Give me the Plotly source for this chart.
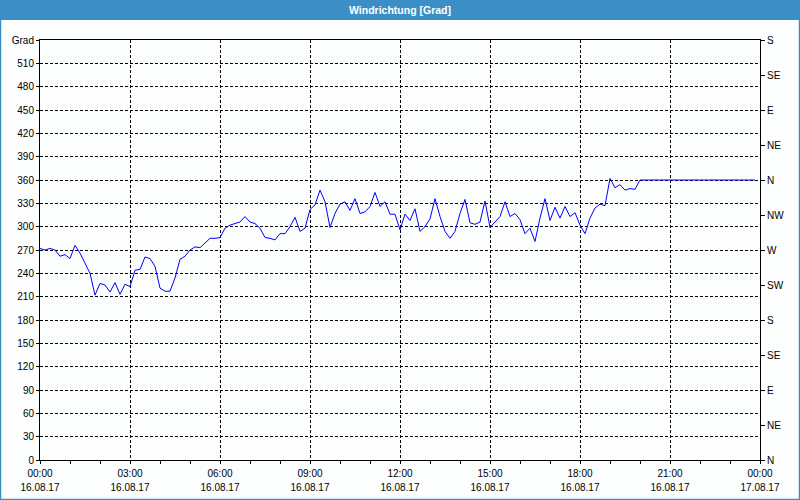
import plotly.graph_objects as go
import pandas as pd

# Wind direction readings every 10 minutes from 16.08.17 00:00
direction_10min = [
    272, 270, 272, 270, 262, 264, 259, 276, 266, 253, 240, 212,
    227, 225, 216, 228, 213, 226, 223, 244, 245, 261, 259, 249,
    221, 217, 217, 234, 258, 262, 270, 274, 273, 279, 285, 285,
    286, 298, 302, 304, 306, 313, 306, 304, 298, 286, 285, 283,
    291, 291, 300, 312, 294, 298, 322, 328, 347, 332, 299, 317,
    329, 332, 321, 336, 317, 319, 326, 344, 326, 332, 316, 316,
    296, 316, 308, 323, 294, 300, 310, 336, 313, 294, 285, 294,
    317, 335, 305, 303, 306, 333, 299, 306, 313, 332, 313, 317,
    309, 291, 298, 281, 311, 336, 308, 325, 311, 326, 313, 318,
    302, 291, 311, 324, 329, 327, 362, 350, 354, 347, 349, 348,
    360, 360, 360, 360, 360, 360, 360, 360, 360, 360, 360, 360,
    360, 360, 360, 360, 360, 360, 360, 360, 360, 360, 360, 360,
]
times = pd.date_range("2017-08-16 00:00", periods=len(direction_10min), freq="10min")

left_tick_vals = list(range(0, 541, 30))
left_tick_text = [str(v) for v in range(0, 511, 30)] + ["Grad"]
right_tick_vals = list(range(0, 541, 45))
right_tick_text = ["N", "NE", "E", "SE", "S", "SW", "W", "NW", "N", "NE", "E", "SE", "S"]
title_text = "Windrichtung [Grad]"

FONT = "Liberation Sans"
FS = 10
X_RANGE = ["2017-08-16 00:00", "2017-08-17 00:00"]
fig = go.Figure()
fig.add_trace(go.Scatter(x=times, y=direction_10min, mode="lines",
                         line=dict(color="#0000ff", width=1), showlegend=False,
                         hoverinfo="x+y"))
# invisible traces for the date-row axis and the right compass axis
fig.add_trace(go.Scatter(x=[times[0]], y=[0], xaxis="x2", mode="markers",
                         marker=dict(opacity=0), showlegend=False, hoverinfo="skip"))
fig.add_trace(go.Scatter(x=[times[0]], y=[0], yaxis="y2", mode="markers",
                         marker=dict(opacity=0), showlegend=False, hoverinfo="skip"))

fig.update_layout(
    width=800, height=500,
    margin=dict(l=40, r=40, t=40, b=40, autoexpand=False),
    paper_bgcolor="#fcfefe", plot_bgcolor="#fcfefe",
    font=dict(family=FONT, size=FS, color="#000000"),
    xaxis=dict(
        type="date", automargin=False,
        range=X_RANGE,
        dtick=3 * 3600 * 1000,
        tick0="2017-08-16 00:00",
        tickformat="%H:%M",
        showgrid=True, gridcolor="#000000", griddash="3px,2px", gridwidth=1,
        showline=True, linecolor="#000000", linewidth=1, mirror=True,
        ticks="outside", ticklen=3, tickcolor="#000000",
        ticklabelstandoff=1,
        minor=dict(dtick=3600 * 1000, ticks="outside", ticklen=3, tickcolor="#000000", showgrid=False),
        zeroline=False, fixedrange=True,
        tickfont=dict(family=FONT, size=FS, color="#000000"),
    ),
    xaxis2=dict(
        type="date", automargin=False, overlaying="x", side="bottom",
        range=X_RANGE,
        dtick=3 * 3600 * 1000,
        tick0="2017-08-16 00:00",
        tickformat="%d.%m.%y",
        showgrid=False, showline=False, ticks="",
        ticklabelstandoff=20,
        zeroline=False, fixedrange=True,
        tickfont=dict(family=FONT, size=FS, color="#000000"),
    ),
    yaxis=dict(
        range=[0, 540], automargin=False,
        tickvals=left_tick_vals, ticktext=left_tick_text,
        showgrid=True, gridcolor="#000000", griddash="3px,2px", gridwidth=1,
        showline=True, linecolor="#000000", linewidth=1, mirror=True,
        ticks="outside", ticklen=3, tickcolor="#000000",
        zeroline=False, fixedrange=True,
        tickfont=dict(family=FONT, size=FS, color="#000000"),
    ),
    yaxis2=dict(
        range=[0, 540], overlaying="y", side="right", automargin=False,
        tickvals=right_tick_vals, ticktext=right_tick_text,
        showgrid=False, showline=True, linecolor="#000000", linewidth=1,
        ticks="outside", ticklen=4, tickcolor="#000000",
        ticklabelstandoff=0,
        zeroline=False, fixedrange=True,
        tickfont=dict(family=FONT, size=FS, color="#000000"),
    ),
    shapes=[
        dict(type="rect", xref="paper", yref="paper",
             x0=-40 / 720, x1=760 / 720, y0=440 / 420, y1=460 / 420,
             fillcolor="#3c8fc6", line=dict(width=0), layer="above"),
        dict(type="rect", xref="paper", yref="paper",
             x0=-39.5 / 720, x1=759.5 / 720, y0=-39.5 / 420, y1=459.5 / 420,
             fillcolor="rgba(0,0,0,0)", line=dict(color="#3c8fc6", width=1.5), layer="above"),
    ],
    annotations=[
        dict(text="<b>" + title_text + "</b>", xref="paper", yref="paper",
             x=0.5, y=450 / 420, xanchor="center", yanchor="middle", showarrow=False,
             font=dict(family=FONT, size=10.5, color="#ffffff")),
    ],
)

fig.write_html("out.html", config={"displayModeBar": False},
               post_script="document.body.style.margin='0';")
